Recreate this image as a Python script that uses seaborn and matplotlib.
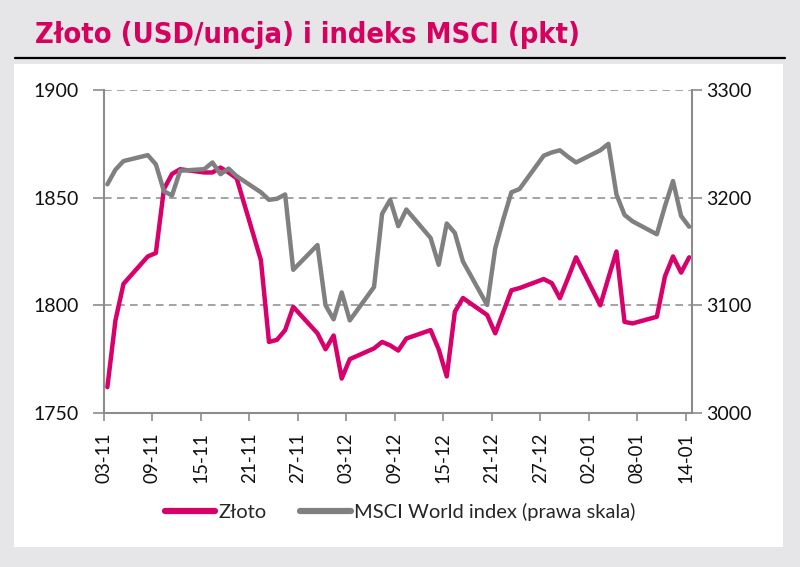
import matplotlib
matplotlib.use('Agg')
import matplotlib.pyplot as plt
from matplotlib.lines import Line2D
from matplotlib.patches import Rectangle
import seaborn as sns
import pandas as pd

# ---------------- data ----------------
dates = ['2021-11-03', '2021-11-04', '2021-11-05', '2021-11-08', '2021-11-09', '2021-11-10',
         '2021-11-11', '2021-11-12', '2021-11-15', '2021-11-16', '2021-11-17', '2021-11-18',
         '2021-11-19', '2021-11-22', '2021-11-23', '2021-11-24', '2021-11-25', '2021-11-26',
         '2021-11-29', '2021-11-30', '2021-12-01', '2021-12-02', '2021-12-03', '2021-12-06',
         '2021-12-07', '2021-12-08', '2021-12-09', '2021-12-10', '2021-12-13', '2021-12-14',
         '2021-12-15', '2021-12-16', '2021-12-17', '2021-12-20', '2021-12-21', '2021-12-22',
         '2021-12-23', '2021-12-24', '2021-12-27', '2021-12-28', '2021-12-29', '2021-12-30',
         '2021-12-31', '2022-01-03', '2022-01-04', '2022-01-05', '2022-01-06', '2022-01-07',
         '2022-01-10', '2022-01-11', '2022-01-12', '2022-01-13', '2022-01-14']
gold = [1762, 1793, 1810, 1822.7, 1824.3, 1854, 1861, 1863.2, 1861.7, 1861.7, 1864, 1861.7,
        1859, 1821, 1783, 1784, 1788.5, 1799.3, 1787, 1779.6, 1786, 1766, 1775, 1780,
        1783, 1781.4, 1779, 1784.6, 1788.5, 1779.6, 1767, 1797, 1803.4, 1795.5, 1787, 1797,
        1807, 1808, 1812.2, 1810.3, 1803.3, 1812.6, 1822.3, 1800, 1812.7, 1825, 1792.3, 1791.6,
        1794.7, 1813.4, 1822.7, 1815.2, 1822.3]
msci = [3212.4, 3226, 3234, 3239.5, 3231, 3206, 3202, 3225, 3226.5, 3232.7, 3221.8, 3227,
        3220, 3205, 3198, 3199, 3203, 3133, 3156, 3100, 3087, 3112, 3086, 3117,
        3185, 3198, 3173.5, 3189, 3162.6, 3137.7, 3176, 3167.3, 3140.8, 3100.3, 3153, 3180,
        3205, 3208, 3239, 3242, 3244, 3238, 3232.7, 3244, 3250, 3203, 3184, 3178,
        3166, 3192, 3215.5, 3183, 3173]
tick_labels = ['03-11', '09-11', '15-11', '21-11', '27-11', '03-12', '09-12',
               '15-12', '21-12', '27-12', '02-01', '08-01', '14-01']
gold_ticks = [1750, 1800, 1850, 1900]
msci_ticks = [3000, 3100, 3200, 3300]
title = "Złoto (USD/uncja) i indeks MSCI (pkt)"
series_names = ['Złoto', 'MSCI World index (prawa skala)']

df = pd.DataFrame({'date': pd.to_datetime(dates), 'gold': gold, 'msci': msci})

GOLD_C = '#d8006a'
MSCI_C = '#808080'
AXIS_C = '#8c8c8c'

sns.set_theme(style='white')
plt.rcParams['font.family'] = ['Lato', 'DejaVu Sans']

W, H = 800, 567
fig = plt.figure(figsize=(8, 5.67), dpi=100, facecolor='#e6e6e8')
fig.patches.append(Rectangle((14 / W, 1 - 547 / H), (783 - 14) / W, (547 - 64) / H,
                             transform=fig.transFigure, facecolor='white',
                             edgecolor='none', zorder=-10))
fig.add_artist(Line2D([15 / W, 785 / W], [1 - 58 / H] * 2, color='black', lw=1.6,
                      transform=fig.transFigure))
fig.text(35 / W, 1 - 35 / H, title, color='#d6005f', fontsize=20.8, fontweight='bold',
         family=['DejaVu Sans'], fontstretch='condensed', va='center', ha='left')

ax = fig.add_axes([104 / W, 1 - 413 / H, (692 - 104) / W, (413 - 90) / H])
ax.set_facecolor('none')
ax2 = ax.twinx()

sns.lineplot(data=df, x='date', y='gold', ax=ax, color=GOLD_C, lw=3.2,
             solid_joinstyle='round', solid_capstyle='round', legend=False)
sns.lineplot(data=df, x='date', y='msci', ax=ax2, color=MSCI_C, lw=3.2,
             solid_joinstyle='round', solid_capstyle='round', legend=False)

start = pd.Timestamp('2021-11-03')
offset = pd.Timedelta(hours=10)
ticks = [start - offset + pd.Timedelta(days=6 * i) for i in range(len(tick_labels))]
ax.set_xlim(start - offset, start + pd.Timedelta(days=72.35))
ax.set_xticks(ticks)
ax.set_xticklabels(tick_labels, rotation=90)

ax.set_ylim(1750, 1900)
ax.set_yticks(gold_ticks)
ax2.set_ylim(3000, 3300)
ax2.set_yticks(msci_ticks)

ax.yaxis.grid(True, linestyle=(0, (5, 3.5)), color='#8a8a8a', lw=1.1)
ax.xaxis.grid(False)
ax2.grid(False)

for a in (ax, ax2):
    a.set_xlabel('')
    a.set_ylabel('')
    for s in a.spines.values():
        s.set_visible(False)
ax.spines['left'].set_visible(True)
ax.spines['bottom'].set_visible(True)
ax2.spines['right'].set_visible(True)
for s in (ax.spines['left'], ax.spines['bottom'], ax2.spines['right']):
    s.set_color(AXIS_C)
    s.set_linewidth(1.5)

ax.tick_params(axis='y', direction='out', length=8, width=1.2, color=AXIS_C,
               labelsize=14, pad=10, labelcolor='#111111', left=True)
ax2.tick_params(axis='y', direction='out', length=7, width=1.2, color=AXIS_C,
                labelsize=14, pad=3, labelcolor='#111111', right=True)
ax.tick_params(axis='x', direction='out', length=6, width=1.2, color=AXIS_C,
               labelsize=13.5, pad=8, labelcolor='#111111', bottom=True)

handles = [Line2D([], [], color=GOLD_C, lw=4.5, solid_capstyle='round'),
           Line2D([], [], color=MSCI_C, lw=4.5, solid_capstyle='round')]
fig.legend(handles=handles, labels=series_names, loc='center',
           bbox_to_anchor=(0.5, 1 - 512 / H), ncol=2, frameon=False, fontsize=14.5,
           handlelength=2.5, handletextpad=0.15, columnspacing=1.7)

fig.savefig('out.png', dpi=100, facecolor=fig.get_facecolor())
